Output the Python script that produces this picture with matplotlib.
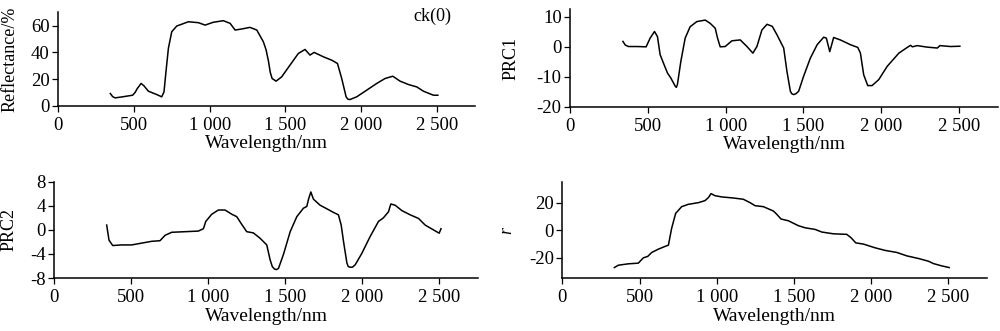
import matplotlib
matplotlib.use("Agg")
import matplotlib.pyplot as plt
from matplotlib.ticker import FuncFormatter

plt.rcParams['font.family'] = ['Liberation Serif', 'DejaVu Serif']
plt.rcParams['font.size'] = 13
plt.rcParams['axes.unicode_minus'] = False

# ck(0) reflectance spectrum
wl_refl = [345, 360, 376, 420, 492, 508, 523, 548, 567, 596, 651, 684, 699, 712, 728, 750, 783,
           860, 926, 970, 1024, 1090, 1135, 1168, 1212, 1266, 1311, 1354, 1372, 1387,
           1400, 1412, 1438, 1475, 1530, 1585, 1629, 1662, 1689, 1750, 1805, 1843, 1871,
           1900, 1912, 1926, 1970, 2036, 2102, 2157, 2208, 2256, 2311, 2366, 2410, 2476, 2505]
refl = [9.3, 7, 6, 6.7, 8, 10, 13, 16.8, 15, 11, 8.5, 6.8, 10.5, 25.5, 43, 55.4, 59.7,
        62.9, 62.2, 60.4, 62.5, 63.7, 61.7, 56.7, 57.5, 58.7, 56.7, 48, 42, 34,
        25, 20.5, 18.5, 21.7, 30.5, 39.2, 42.2, 38, 40, 36.7, 34.2, 31.7, 20.5,
        6.8, 5.0, 4.8, 6.8, 11.8, 16.8, 20.5, 22.2, 18.5, 16, 14.2, 11, 8, 8]

# first principal component
wl_prc1 = [340, 355, 375, 429, 489, 515, 543, 562, 579, 605, 626, 648, 676, 683, 690, 712, 740,
           772, 815, 869, 901, 933, 948, 965, 997, 1040, 1094, 1137, 1175, 1201, 1233,
           1266, 1300, 1330, 1373, 1394, 1416, 1425, 1437, 1452, 1469, 1501, 1544, 1588, 1630, 1647,
           1669, 1694, 1737, 1802, 1849, 1866, 1887, 1913, 1941, 1984, 2038, 2113, 2167,
           2188, 2200, 2231, 2295, 2360, 2377, 2445, 2505]
prc1 = [1.8, 0.6, 0.1, 0.1, 0, 2.9, 5.1, 3.4, -2.6, -6, -8.7, -10.4, -13.1, -13.5, -12.6, -4.9, 2.9,
        6.7, 8.4, 8.9, 7.8, 6.2, 2.9, 0, 0.1, 2, 2.3, 0.1, -2.1, 0.1, 5.6,
        7.5, 6.8, 4, -0.4, -8.2, -14.8, -15.6, -15.9, -15.6, -14.8, -9.8, -3.8, 0.7, 3.2, 2.9,
        -1.6, 3.1, 2.3, 0.7, -0.2, -2.1, -9.3, -12.9, -12.9, -10.9, -6.5, -2.1, -0.2,
        0.5, 0.0, 0.4, -0.1, -0.4, 0.4, 0.1, 0.2]

# second principal component
wl_prc2 = [340, 355, 379, 437, 502, 567, 632, 686, 719, 762, 849, 935, 968, 983, 1022,
           1065, 1108, 1152, 1184, 1217, 1249, 1292, 1336, 1379, 1401, 1415, 1429, 1442, 1455, 1487,
           1531, 1574, 1617, 1639, 1649, 1665, 1682, 1725, 1769, 1812, 1844, 1862, 1877,
           1899, 1908, 1920, 1935, 1953, 1996, 2050, 2104, 2136, 2169, 2184, 2212, 2256, 2310, 2364,
           2407, 2461, 2498, 2510]
prc2 = [0.8, -1.7, -2.6, -2.5, -2.5, -2.2, -1.9, -1.8, -0.9, -0.4, -0.3, -0.2, 0.2, 1.4, 2.6,
        3.3, 3.3, 2.6, 2.2, 0.9, -0.3, -0.5, -1.4, -2.5, -5, -6.1, -6.5, -6.6, -6.4, -4.1,
        -0.3, 2.2, 3.6, 3.9, 5, 6.3, 5.1, 4.1, 3.5, 2.9, 2.5, 0.8, -1.9,
        -5.5, -6.1, -6.2, -6.2, -5.8, -3.9, -1.1, 1.4, 2.0, 3.0, 4.3, 4.1, 3.2, 2.5, 1.9,
        0.8, 0, -0.55, 0.2]

# correlation coefficient
wl_r = [337, 363, 427, 492, 525, 553, 579, 622, 665, 687, 708, 734, 773, 816, 881,
        924, 946, 963, 989, 1032, 1108, 1172, 1216, 1248, 1302, 1367, 1389, 1416, 1464,
        1529, 1572, 1637, 1680, 1755, 1842, 1870, 1900, 1950, 2025, 2090, 2166, 2231,
        2306, 2371, 2403, 2457, 2505]
r_vals = [-27.1, -25.4, -24.4, -23.9, -20, -19, -16.1, -13.7, -11.7, -10.8, 1.5, 12.4, 17.3, 19, 20.2,
          21.7, 23.9, 26.8, 25.3, 24.4, 23.6, 22.7, 20.2, 18, 17.3, 14.1, 11.7, 8.3, 7,
          3.4, 1.9, 0.7, -1.2, -2.5, -2.9, -5.4, -9.1, -10, -12.7, -14.6, -16.1, -18.6,
          -20.5, -22.5, -24.2, -25.9, -27.1]

xticks = [0, 500, 1000, 1500, 2000, 2500]


def thousands(v, pos):
    return f"{int(v):,}".replace(",", " ")


def style_axis(ax, yticks, ylim, ylabel, label_x, italic=False):
    ax.spines['top'].set_visible(False)
    ax.spines['right'].set_visible(False)
    for s in ('left', 'bottom'):
        ax.spines[s].set_linewidth(1.1)
    ax.set_xlim(0, 2750)
    ax.set_ylim(*ylim)
    ax.set_xticks(xticks)
    ax.set_yticks(yticks)
    ax.xaxis.set_major_formatter(FuncFormatter(thousands))
    ax.tick_params(direction='out', length=4, width=0.9, labelsize=13.5)
    ax.tick_params(axis='x', pad=4)
    ax.tick_params(axis='y', pad=2)
    ax.set_xlabel('Wavelength/nm', fontsize=14, labelpad=1)
    ax.set_ylabel(ylabel, style='italic' if italic else 'normal')
    ax.yaxis.set_label_coords(label_x, 0.5)


fig = plt.figure(figsize=(10, 3.31), dpi=100)

ax1 = fig.add_axes([0.058, 0.680, 0.417, 0.283])
ax1.plot(wl_refl, refl, color='black', linewidth=1.1)
style_axis(ax1, [0, 20, 40, 60], (0, 70), 'Reflectance/%', -0.094)
ax1.text(0.897, 0.955, 'ck(0)', transform=ax1.transAxes, ha='center', va='center')

ax2 = fig.add_axes([0.570, 0.677, 0.428, 0.295])
ax2.plot(wl_prc1, prc1, color='black', linewidth=1.1)
style_axis(ax2, [-20, -10, 0, 10], (-20, 12.5), 'PRC1', -0.119)

ax3 = fig.add_axes([0.0543, 0.160, 0.4237, 0.291])
ax3.plot(wl_prc2, prc2, color='black', linewidth=1.1)
style_axis(ax3, [-8, -4, 0, 4, 8], (-8, 8), 'PRC2', -0.086)

ax4 = fig.add_axes([0.5623, 0.159, 0.4247, 0.290])
ax4.plot(wl_r, r_vals, color='black', linewidth=1.1)
style_axis(ax4, [-20, 0, 20], (-35, 35), 'r', -0.11, italic=True)

fig.savefig('out.png', dpi=100)
